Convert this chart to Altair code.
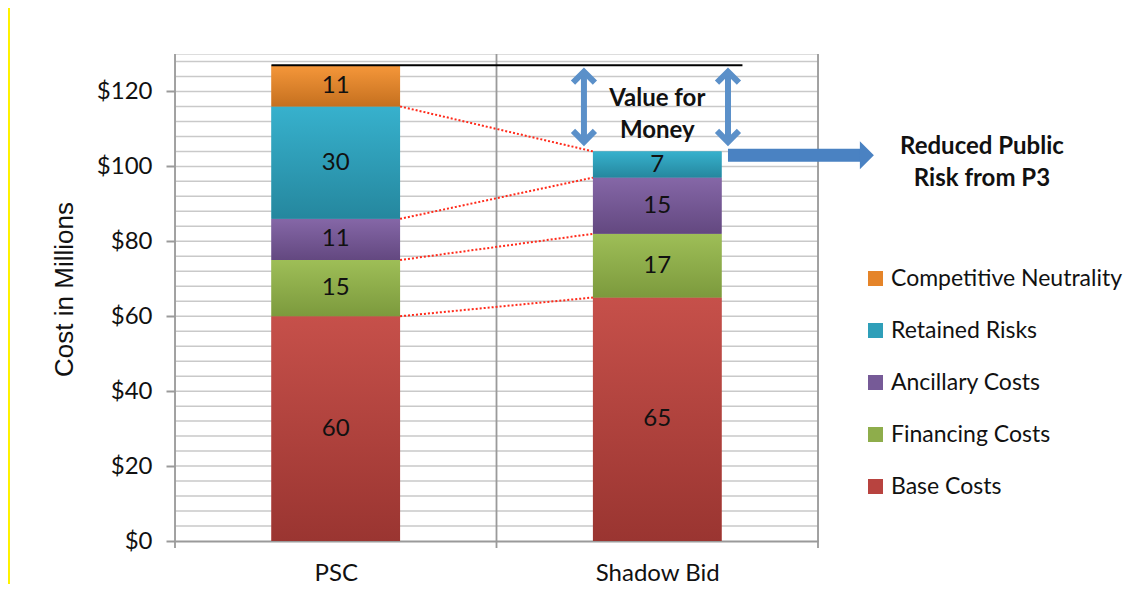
import altair as alt
import pandas as pd

# ---- data ----
categories = ["PSC", "Shadow Bid"]
series = ["Base Costs", "Financing Costs", "Ancillary Costs", "Retained Risks", "Competitive Neutrality"]
psc_values = [60, 15, 11, 30, 11]
shadow_values = [65, 17, 15, 7, 0]
y_ticks = [0, 20, 40, 60, 80, 100, 120]
grid_values = [4, 8, 12, 16, 20, 24, 28, 32, 36, 40, 44, 48, 52, 56, 60, 64, 68, 72, 76, 80,
               84, 88, 92, 96, 100, 104, 108, 112, 116, 120, 124, 128]

legend_order = ["Competitive Neutrality", "Retained Risks", "Ancillary Costs", "Financing Costs", "Base Costs"]
solid = {"Base Costs": "#B8433F", "Financing Costs": "#8EAD4B", "Ancillary Costs": "#765A97",
         "Retained Risks": "#2F9FB9", "Competitive Neutrality": "#E58429"}
grad = {"Base Costs": ("#C6504A", "#9A3531"), "Financing Costs": ("#9EBE57", "#7C9A3D"),
        "Ancillary Costs": ("#8567A7", "#634880"), "Retained Risks": ("#37B1CD", "#25879E"),
        "Competitive Neutrality": ("#F5973A", "#C5701F")}

FONT = "Lato"
FS = 24
W, H = 643, 487
YMAX = 130
BAR_HALF = 0.2

rows = []
for ci, (cat, vals) in enumerate([(categories[0], psc_values), (categories[1], shadow_values)]):
    cum = 0
    for s, v in zip(series, vals):
        if v > 0:
            rows.append({"cat": cat, "series": s, "value": v, "y0": cum, "y1": cum + v,
                         "ymid": cum + v / 2, "xl": ci + 0.5 - BAR_HALF, "xr": ci + 0.5 + BAR_HALF})
        cum += v
df = pd.DataFrame(rows)

# connectors between cumulative tops
cum_psc, cum_sh = [], []
a = b = 0
for p, s in zip(psc_values[:4], shadow_values[:4]):
    a += p; b += s
    cum_psc.append(a); cum_sh.append(b)
conn = pd.DataFrame({"x": [0.5 + BAR_HALF] * 4, "x2": [1.5 - BAR_HALF] * 4, "y": cum_psc, "y2": cum_sh})

psc_total = sum(psc_values)
sh_total = sum(shadow_values)

xs = alt.Scale(domain=[0, 2], nice=False, zero=False)
ys = alt.Scale(domain=[0, YMAX], nice=False)

# gridlines
hgrid = alt.Chart(pd.DataFrame({"g": grid_values})).mark_rule(color="#C9C9C9", strokeWidth=1.5).encode(
    y=alt.Y("g:Q", scale=ys), x=alt.value(0), x2=alt.value(W))
vgrid = alt.Chart(pd.DataFrame({"v": [0, 1, 2]})).mark_rule(color="#9A9A9A", strokeWidth=1.8).encode(
    x=alt.X("v:Q", scale=xs), y=alt.value(0), y2=alt.value(H + 7))

# base bars (solid, provides legend)
base = alt.Chart(df).mark_bar().encode(
    x=alt.X("xl:Q", scale=xs,
            axis=alt.Axis(values=[0.5, 1.5], title=None, ticks=False, grid=False,
                          labelExpr=f"datum.value < 1 ? '{categories[0]}' : '{categories[1]}'",
                          labelFont=FONT, labelFontSize=FS, labelColor="#111", labelPadding=20,
                          domainColor="#9A9A9A", domainWidth=2)),
    x2="xr:Q",
    y=alt.Y("y0:Q", scale=ys,
            axis=alt.Axis(values=y_ticks, title="Cost  in Millions", grid=False, domain=False,
                          labelExpr="'$' + datum.value", labelFont=FONT, labelFontSize=FS,
                          labelColor="#111", tickColor="#9A9A9A", tickWidth=2, tickSize=9,
                          labelPadding=14, titleFont="Liberation Sans", titleFontSize=26,
                          titleFontWeight="normal", titleColor="#111", titlePadding=19, titleY=235)),
    y2="y1:Q",
    color=alt.Color("series:N", scale=alt.Scale(domain=legend_order, range=[solid[s] for s in legend_order]),
                    legend=alt.Legend(orient="none", legendX=689, legendY=213, title=None,
                                      symbolType="square", symbolSize=225, symbolStrokeWidth=0,
                                      labelFont=FONT, labelFontSize=23, labelColor="#111", labelLimit=0,
                                      rowPadding=28, labelOffset=4)),
)

grad_layers = []
for s in series:
    top, bot = grad[s]
    g = alt.Gradient(gradient="linear", x1=0, x2=0, y1=0, y2=1,
                     stops=[alt.GradientStop(color=top, offset=0), alt.GradientStop(color=bot, offset=1)])
    grad_layers.append(
        alt.Chart(df).transform_filter(alt.datum.series == s).mark_bar(color=g).encode(
            x=alt.X("xl:Q", scale=xs), x2="xr:Q", y=alt.Y("y0:Q", scale=ys), y2="y1:Q"))

labels = alt.Chart(df).mark_text(font=FONT, fontSize=FS, color="#111").encode(
    x=alt.X("cx:Q", scale=xs), y=alt.Y("ymid:Q", scale=ys), text="value:Q"
).transform_calculate(cx="(datum.xl + datum.xr) / 2")

connectors = alt.Chart(conn).mark_rule(color="#FF2A1A", strokeWidth=2, strokeDash=[2, 2]).encode(
    x=alt.X("x:Q", scale=xs), x2="x2:Q", y=alt.Y("y:Q", scale=ys), y2="y2:Q")

# total line
total_line = alt.Chart(pd.DataFrame({"x": [0.5 - BAR_HALF], "x2": [1.765], "y": [psc_total]})).mark_rule(
    color="#000", strokeWidth=2).encode(x=alt.X("x:Q", scale=xs), x2="x2:Q", y=alt.Y("y:Q", scale=ys))

# value-for-money arrows
ARROW = "#5B90C9"
arr_x = [1.272, 1.72]
shafts = alt.Chart(pd.DataFrame({"x": arr_x, "y": [125.3] * 2, "y2": [106.5] * 2})).mark_rule(
    color=ARROW, strokeWidth=6).encode(x=alt.X("x:Q", scale=xs), y=alt.Y("y:Q", scale=ys), y2="y2:Q")
heads_up = alt.Chart(pd.DataFrame({"x": arr_x, "y": [123.8] * 2})).mark_point(
    shape="M-1,0.5L0,-0.5L1,0.5", filled=False, color=ARROW, strokeWidth=6, size=480, opacity=1).encode(
    x=alt.X("x:Q", scale=xs), y=alt.Y("y:Q", scale=ys))
heads_dn = alt.Chart(pd.DataFrame({"x": arr_x, "y": [108.0] * 2})).mark_point(
    shape="M-1,-0.5L0,0.5L1,-0.5", filled=False, color=ARROW, strokeWidth=6, size=480, opacity=1).encode(
    x=alt.X("x:Q", scale=xs), y=alt.Y("y:Q", scale=ys))

vfm_text = alt.Chart(pd.DataFrame({"x": [1.5], "y": [118.0], "t": ["Value for\nMoney"]})).mark_text(
    font=FONT, fontSize=24, fontWeight="bold", color="#111", lineBreak="\n", lineHeight=32,
    baseline="middle").encode(x=alt.X("x:Q", scale=xs), y=alt.Y("y:Q", scale=ys), text="t:N")

# reduced risk arrow
RARROW = "#4A82C2"
body = alt.Chart(pd.DataFrame({"x": [1.72], "x2": [2.14], "y": [103.0]})).mark_rule(
    color=RARROW, strokeWidth=13).encode(x=alt.X("x:Q", scale=xs), x2="x2:Q", y=alt.Y("y:Q", scale=ys))
rhead = alt.Chart(pd.DataFrame({"x": [2.152], "y": [103.0]})).mark_point(
    shape="M-0.5,-1L0.5,0L-0.5,1Z", filled=True, color=RARROW, size=784, opacity=1).encode(
    x=alt.X("x:Q", scale=xs), y=alt.Y("y:Q", scale=ys))
rr_text = alt.Chart(pd.DataFrame({"x": [2.51], "y": [105.3], "t": ["Reduced Public\nRisk from P3"]})).mark_text(
    font=FONT, fontSize=24, fontWeight="bold", color="#111", lineBreak="\n", lineHeight=32,
    baseline="middle").encode(x=alt.X("x:Q", scale=xs), y=alt.Y("y:Q", scale=ys), text="t:N")

# yellow page rule on the left
yellow = alt.Chart(pd.DataFrame({"a": [0]})).mark_rule(color="#FFF200", strokeWidth=2).encode(
    x=alt.value(-166), y=alt.value(-54), y2=alt.value(540))

chart = alt.layer(
    hgrid, vgrid, base, *grad_layers, connectors, total_line, labels,
    shafts, heads_up, heads_dn, vfm_text, body, rhead, rr_text, yellow
).properties(
    width=W, height=H,
    autosize=alt.AutoSizeParams(type="none"),
    padding={"left": 167, "top": 46, "right": 317, "bottom": 43},
).configure_view(stroke=None).configure(background="white")

chart.save("out.html", embed_options={"renderer": "svg", "actions": False})
